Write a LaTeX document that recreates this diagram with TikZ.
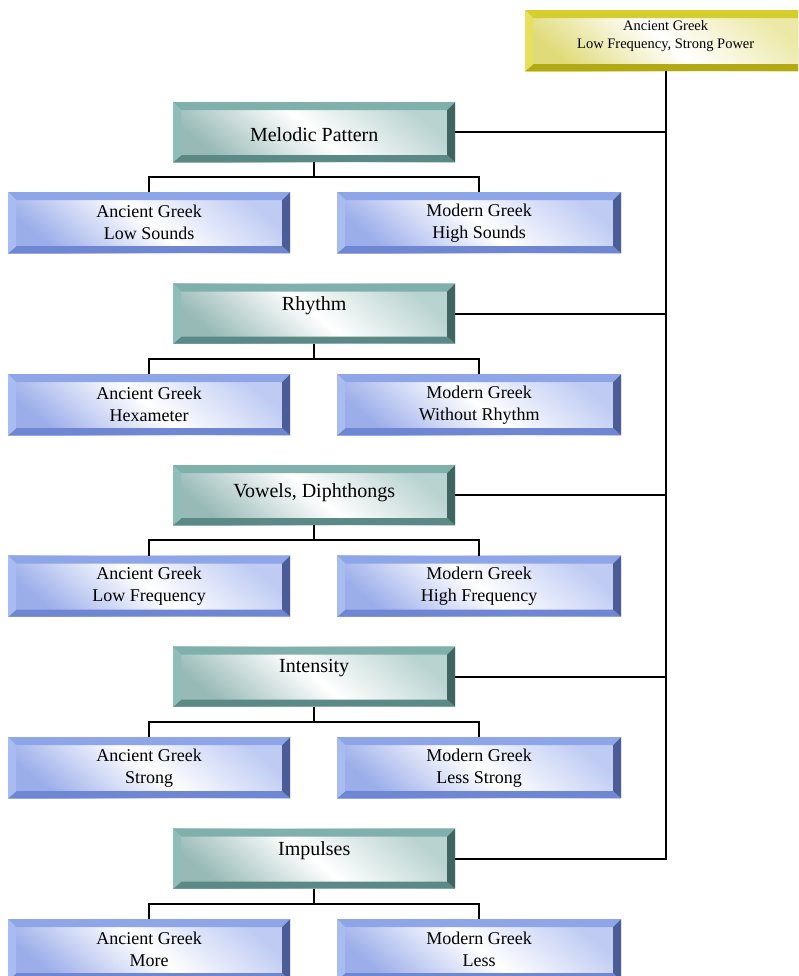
\documentclass[tikz,border=0pt]{standalone}
\usepackage{fontspec}
\setmainfont{Liberation Serif}
\definecolor{tT}{HTML}{80B0AC}
\definecolor{tL}{HTML}{8FBDB9}
\definecolor{tR}{HTML}{3F6461}
\definecolor{tB}{HTML}{5B8985}
\definecolor{tA}{HTML}{98BAB7}
\definecolor{tC}{HTML}{B9D3D0}
\definecolor{bT}{HTML}{8EA6E8}
\definecolor{bL}{HTML}{A9BCF2}
\definecolor{bR}{HTML}{4A5D96}
\definecolor{bB}{HTML}{6F87D3}
\definecolor{bA}{HTML}{9CAEEA}
\definecolor{bC}{HTML}{BFCBF3}
\definecolor{yT}{HTML}{D6CE2E}
\definecolor{yL}{HTML}{E6E05E}
\definecolor{yR}{HTML}{A29B00}
\definecolor{yB}{HTML}{B2AA14}
\definecolor{yA}{HTML}{E0DB7A}
\definecolor{yC}{HTML}{ECE9A8}
\tikzset{
  bev/.style n args={4}{path picture={
    \fill[#1] (path picture bounding box.north west) -- (path picture bounding box.north east)
      -- ([shift={(-8pt,-8pt)}]path picture bounding box.north east)
      -- ([shift={(8pt,-8pt)}]path picture bounding box.north west) -- cycle;
    \fill[#4] (path picture bounding box.south west) -- (path picture bounding box.south east)
      -- ([shift={(-8pt,7pt)}]path picture bounding box.south east)
      -- ([shift={(8pt,7pt)}]path picture bounding box.south west) -- cycle;
    \fill[#2] (path picture bounding box.north west) -- (path picture bounding box.south west)
      -- ([shift={(8pt,7pt)}]path picture bounding box.south west)
      -- ([shift={(8pt,-8pt)}]path picture bounding box.north west) -- cycle;
    \fill[#3] (path picture bounding box.north east) -- (path picture bounding box.south east)
      -- ([shift={(-8pt,7pt)}]path picture bounding box.south east)
      -- ([shift={(-8pt,-8pt)}]path picture bounding box.north east) -- cycle;
  }},
  boxbase/.style={anchor=north west, inner sep=0pt, align=center},
  tealbox/.style={boxbase, minimum width=282pt, minimum height=60pt,
    font=\fontsize{20}{24}\selectfont,
    left color=tA, right color=tC, shading angle=140, middle color=white,
    bev={tT}{tL}{tR}{tB}},
  bluebox/.style={boxbase, minimum height=61pt,
    font=\fontsize{18}{22}\selectfont,
    left color=bA, right color=bC, shading angle=140, middle color=white,
    bev={bT}{bL}{bR}{bB}},
  goldbox/.style={boxbase, minimum width=281pt, minimum height=61pt,
    font=\fontsize{14.5}{18}\selectfont,
    left color=yA, right color=yC, shading angle=140, middle color=white,
    bev={yT}{yL}{yR}{yB}},
  tshift/.style={text height=14pt+#1pt, text depth=14pt-#1pt},
  conn/.style={draw=black, line width=1.9pt},
}
\begin{document}
\begin{tikzpicture}[x=1pt, y=-1pt]
\useasboundingbox (0,0) rectangle (798,976);
\clip (0,0) rectangle (798,976);
\fill[white] (0,0) rectangle (798,976);

\node[goldbox, text height=18pt, text depth=20pt] (top) at (525,10)
  {\begin{tabular}{@{}c@{}}Ancient Greek\\Low Frequency, Strong Power\end{tabular}};

% teal category boxes
\node[tealbox, tshift=9]  (t1) at (173,102)   {Melodic Pattern};
\node[tealbox, tshift=-3] (t2) at (173,283.5) {Rhythm};
\node[tealbox, tshift=2]  (t3) at (173,465)   {Vowels, Diphthongs};
\node[tealbox, tshift=-4] (t4) at (173,646.5) {Intensity};
\node[tealbox, tshift=-3] (t5) at (173,828.5) {Impulses};

% blue boxes
\node[bluebox, minimum width=282pt] (a1) at (8,192)     {Ancient Greek\\Low Sounds};
\node[bluebox, minimum width=284pt] (m1) at (337,192)   {Modern Greek\\High Sounds};
\node[bluebox, minimum width=282pt] (a2) at (8,374)     {Ancient Greek\\Hexameter};
\node[bluebox, minimum width=284pt] (m2) at (337,374)   {Modern Greek\\Without Rhythm};
\node[bluebox, minimum width=282pt] (a3) at (8,555.5)   {Ancient Greek\\Low Frequency};
\node[bluebox, minimum width=284pt] (m3) at (337,555.5) {Modern Greek\\High Frequency};
\node[bluebox, minimum width=282pt] (a4) at (8,737)     {Ancient Greek\\Strong};
\node[bluebox, minimum width=284pt] (m4) at (337,737)   {Modern Greek\\Less Strong};
\node[bluebox, minimum width=282pt] (a5) at (8,919)     {Ancient Greek\\More};
\node[bluebox, minimum width=284pt] (m5) at (337,919)   {Modern Greek\\Less};

% trunk
\draw[conn] (top.south) -- (t5.east -| top.south) -- (t5.east);
\foreach \i in {1,2,3,4} {
  \draw[conn] (t\i.east) -- (t\i.east -| top.south);
}
% branches
\foreach \i in {1,...,5} {
  \draw[conn] (t\i.south) -- ++(0,15) -| (a\i.north);
  \draw[conn] (t\i.south) -- ++(0,15) -| (m\i.north);
}
\end{tikzpicture}
\end{document}
